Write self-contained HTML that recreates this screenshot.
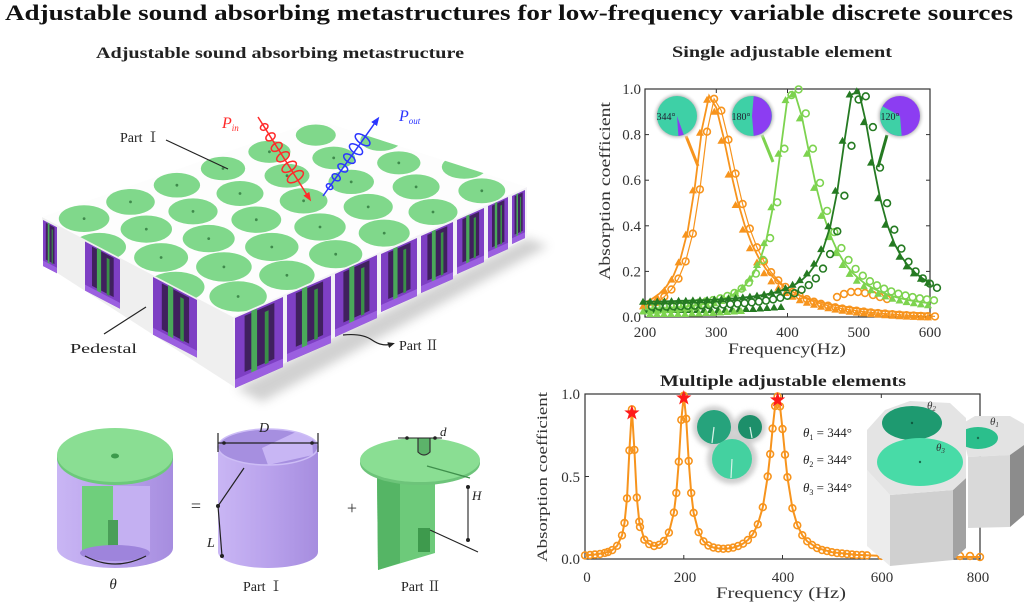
<!DOCTYPE html>
<html><head><meta charset="utf-8"><style>html,body{margin:0;padding:0;background:#fff}svg{display:block}</style></head>
<body>
<svg width="1024" height="615" viewBox="0 0 1024 615" xmlns="http://www.w3.org/2000/svg" font-family="'Liberation Serif','Noto Serif CJK SC',serif">
<defs>
<linearGradient id="lav" x1="0" x2="1" y1="0" y2="0"><stop offset="0" stop-color="#c9b6f4"/><stop offset="0.5" stop-color="#b9a2ec"/><stop offset="1" stop-color="#a68ddf"/></linearGradient>
<radialGradient id="halo"><stop offset="0.78" stop-color="#b8b8b8"/><stop offset="1" stop-color="#ffffff" stop-opacity="0"/></radialGradient>
<filter id="blur"><feGaussianBlur stdDeviation="5"/></filter>
<filter id="blur2"><feGaussianBlur stdDeviation="2.5"/></filter>
<clipPath id="topclip"><polygon points="42,217 318,120 527,187 233,317"/></clipPath>
<g id="cav">
<rect width="100" height="100" fill="#7e3fc4"/>
<rect x="20" y="3" width="62" height="80" fill="#40205e"/>
<rect x="34" y="0" width="12" height="97" fill="#4aa95a"/>
<rect x="62" y="10" width="8" height="75" fill="#3a8f48"/>
<rect y="88" width="100" height="12" fill="#9b5fe0"/>
</g>
<marker id="oc" markerWidth="12" markerHeight="12" refX="6" refY="6" markerUnits="userSpaceOnUse"><circle cx="6" cy="6" r="3.4" fill="none" stroke="#f7941d" stroke-width="1.6"/></marker>
<marker id="lc" markerWidth="12" markerHeight="12" refX="6" refY="6" markerUnits="userSpaceOnUse"><circle cx="6" cy="6" r="3.4" fill="none" stroke="#7dd34f" stroke-width="1.6"/></marker>
<marker id="dc" markerWidth="12" markerHeight="12" refX="6" refY="6" markerUnits="userSpaceOnUse"><circle cx="6" cy="6" r="3.4" fill="none" stroke="#257a22" stroke-width="1.6"/></marker>
<marker id="ot" markerWidth="12" markerHeight="12" refX="6" refY="6" markerUnits="userSpaceOnUse"><polygon points="6,2 10,9 2,9" fill="#f7941d"/></marker>
<marker id="lt" markerWidth="12" markerHeight="12" refX="6" refY="6" markerUnits="userSpaceOnUse"><polygon points="6,2 10,9 2,9" fill="#7dd34f"/></marker>
<marker id="dt" markerWidth="12" markerHeight="12" refX="6" refY="6" markerUnits="userSpaceOnUse"><polygon points="6,2 10,9 2,9" fill="#257a22"/></marker>
<marker id="ar" markerWidth="10" markerHeight="10" refX="5" refY="5" orient="auto" markerUnits="userSpaceOnUse"><polygon points="0,1.5 9,5 0,8.5" fill="#ff2a2a"/></marker>
<marker id="ab" markerWidth="10" markerHeight="10" refX="5" refY="5" orient="auto" markerUnits="userSpaceOnUse"><polygon points="0,1.5 9,5 0,8.5" fill="#2b35ff"/></marker>
<marker id="ak" markerWidth="8" markerHeight="8" refX="4" refY="4" orient="auto" markerUnits="userSpaceOnUse"><polygon points="0,1 7,4 0,7" fill="#222"/></marker>
<polygon id="star" points="0,-8 1.88,-2.59 7.61,-2.47 3.04,0.99 4.7,6.47 0,3.2 -4.7,6.47 -3.04,0.99 -7.61,-2.47 -1.88,-2.59" fill="#ff1a1a"/>
</defs>

<rect width="1024" height="615" fill="#fff"/>

<!-- Titles -->
<text x="5" y="20" font-size="22" font-weight="bold" fill="#111" textLength="1008" lengthAdjust="spacingAndGlyphs">Adjustable sound absorbing metastructures for low-frequency variable discrete sources</text>
<text x="96" y="58" font-size="16" font-weight="bold" fill="#222" textLength="368" lengthAdjust="spacingAndGlyphs">Adjustable sound absorbing metastructure</text>
<text x="672" y="57" font-size="16" font-weight="bold" fill="#222" textLength="220" lengthAdjust="spacingAndGlyphs">Single adjustable element</text>
<text x="660" y="386" font-size="16" font-weight="bold" fill="#222" textLength="246" lengthAdjust="spacingAndGlyphs">Multiple adjustable elements</text>

<!-- ===== Slab ===== -->
<polygon points="236,388 527,238 548,246 262,402" fill="#9a9a9a" opacity="0.45" filter="url(#blur)"/>
<polygon points="42,217 233,317 236,388 48,267" fill="#efefef"/>
<use href="#cav" transform="matrix(0.14,0.073,0,0.46,43,220)"/>
<use href="#cav" transform="matrix(0.35,0.183,0,0.49,85,241.5)"/>
<use href="#cav" transform="matrix(0.44,0.23,0,0.576,153,277)"/>
<polygon points="233,317 527,187 527,238 236,388" fill="#f3f1f6"/>
<use href="#cav" transform="matrix(0.48,-0.21,0,0.70,235,318)"/>
<use href="#cav" transform="matrix(0.44,-0.19,0,0.67,287,295)"/>
<use href="#cav" transform="matrix(0.42,-0.19,0,0.63,335,274)"/>
<use href="#cav" transform="matrix(0.36,-0.16,0,0.58,381,254)"/>
<use href="#cav" transform="matrix(0.32,-0.14,0,0.57,421,236)"/>
<use href="#cav" transform="matrix(0.27,-0.12,0,0.54,457,220)"/>
<use href="#cav" transform="matrix(0.20,-0.09,0,0.52,488,206)"/>
<use href="#cav" transform="matrix(0.13,-0.06,0,0.48,512,196)"/>
<polygon points="42,217 318,120 527,187 233,317" fill="#fdfdfd"/>
<g clip-path="url(#topclip)" fill="#80d88b">
<ellipse cx="238.1" cy="296.5" rx="28.7" ry="15.2"/><ellipse cx="286.9" cy="275.3" rx="27.7" ry="14.7"/><ellipse cx="335.7" cy="254.2" rx="26.6" ry="14.1"/><ellipse cx="384.2" cy="233.1" rx="25.5" ry="13.5"/><ellipse cx="433" cy="212" rx="24.5" ry="13"/><ellipse cx="481.8" cy="190.8" rx="23.4" ry="12.4"/>
<ellipse cx="175.7" cy="287" rx="28.8" ry="15.3"/><ellipse cx="223.9" cy="266.9" rx="27.8" ry="14.7"/><ellipse cx="271.8" cy="247" rx="26.7" ry="14.1"/><ellipse cx="320" cy="227" rx="25.7" ry="13.6"/><ellipse cx="368.2" cy="206.9" rx="24.6" ry="13"/><ellipse cx="416.1" cy="186.9" rx="23.5" ry="12.5"/><ellipse cx="464.3" cy="166.9" rx="22.5" ry="11.9"/>
<ellipse cx="161.1" cy="257.5" rx="27" ry="14.4"/><ellipse cx="208.7" cy="238.6" rx="26" ry="13.7"/><ellipse cx="256.3" cy="219.7" rx="24.9" ry="13.2"/><ellipse cx="303.6" cy="200.8" rx="23.9" ry="12.7"/><ellipse cx="351.2" cy="181.9" rx="22.8" ry="12.1"/><ellipse cx="398.8" cy="162.9" rx="21.7" ry="11.5"/>
<ellipse cx="99.3" cy="247" rx="26.7" ry="14.1"/><ellipse cx="146.3" cy="229.1" rx="25.7" ry="13.6"/><ellipse cx="193" cy="211.4" rx="24.6" ry="13"/><ellipse cx="240" cy="193.5" rx="23.5" ry="12.5"/><ellipse cx="287" cy="175.7" rx="22.5" ry="11.9"/><ellipse cx="333.7" cy="157.9" rx="21.4" ry="11.3"/><ellipse cx="380.7" cy="140.1" rx="20.4" ry="10.8"/>
<ellipse cx="84.1" cy="218.6" rx="25.3" ry="13.4"/><ellipse cx="130.5" cy="201.9" rx="24.3" ry="12.9"/><ellipse cx="176.9" cy="185.2" rx="23.2" ry="12.3"/><ellipse cx="223" cy="168.5" rx="22.2" ry="11.8"/><ellipse cx="269.4" cy="151.8" rx="21.1" ry="11.1"/><ellipse cx="315.8" cy="135.1" rx="20" ry="10.6"/>
</g>
<g fill="#3f8a4c">
<circle cx="238.1" cy="296.5" r="1.4"/><circle cx="286.9" cy="275.3" r="1.4"/><circle cx="335.7" cy="254.2" r="1.4"/><circle cx="384.2" cy="233.1" r="1.4"/><circle cx="433" cy="212" r="1.4"/><circle cx="481.8" cy="190.8" r="1.4"/>
<circle cx="223.9" cy="266.9" r="1.4"/><circle cx="271.8" cy="247" r="1.4"/><circle cx="320" cy="227" r="1.4"/><circle cx="368.2" cy="206.9" r="1.4"/><circle cx="416.1" cy="186.9" r="1.4"/>
<circle cx="161.1" cy="257.5" r="1.4"/><circle cx="208.7" cy="238.6" r="1.4"/><circle cx="256.3" cy="219.7" r="1.4"/><circle cx="303.6" cy="200.8" r="1.4"/><circle cx="351.2" cy="181.9" r="1.4"/><circle cx="398.8" cy="162.9" r="1.4"/>
<circle cx="146.3" cy="229.1" r="1.4"/><circle cx="193" cy="211.4" r="1.4"/><circle cx="240" cy="193.5" r="1.4"/><circle cx="287" cy="175.7" r="1.4"/><circle cx="333.7" cy="157.9" r="1.4"/>
<circle cx="84.1" cy="218.6" r="1.4"/><circle cx="130.5" cy="201.9" r="1.4"/><circle cx="176.9" cy="185.2" r="1.4"/><circle cx="223" cy="168.5" r="1.4"/><circle cx="269.4" cy="151.8" r="1.4"/>
</g>

<!-- waves -->
<line x1="258" y1="117" x2="309" y2="198" stroke="#ff2a2a" stroke-width="1.5" marker-end="url(#ar)"/>
<g fill="none" stroke="#ff2a2a" stroke-width="1.5">
<ellipse cx="264.2" cy="127" rx="3" ry="4" transform="rotate(57.9 264.2 127)"/>
<ellipse cx="270.5" cy="136.9" rx="3.5" ry="5" transform="rotate(57.9 270.5 136.9)"/>
<ellipse cx="276.7" cy="146.9" rx="3.8" ry="6" transform="rotate(57.9 276.7 146.9)"/>
<ellipse cx="283" cy="156.8" rx="4" ry="7" transform="rotate(57.9 283 156.8)"/>
<ellipse cx="289.2" cy="166.8" rx="4.3" ry="8" transform="rotate(57.9 289.2 166.8)"/>
<ellipse cx="295.4" cy="176.7" rx="4.5" ry="9" transform="rotate(57.9 295.4 176.7)"/>
</g>
<line x1="323" y1="196" x2="377" y2="120" stroke="#2b35ff" stroke-width="1.5" marker-end="url(#ab)"/>
<g fill="none" stroke="#2b35ff" stroke-width="1.5">
<ellipse cx="329.6" cy="186.6" rx="2.5" ry="3.5" transform="rotate(-54.8 329.6 186.6)"/>
<ellipse cx="336.2" cy="177.3" rx="3" ry="4.5" transform="rotate(-54.8 336.2 177.3)"/>
<ellipse cx="342.8" cy="167.9" rx="3.3" ry="5.5" transform="rotate(-54.8 342.8 167.9)"/>
<ellipse cx="349.4" cy="158.6" rx="3.6" ry="6.5" transform="rotate(-54.8 349.4 158.6)"/>
<ellipse cx="356" cy="149.2" rx="4" ry="7.5" transform="rotate(-54.8 356 149.2)"/>
<ellipse cx="362.6" cy="139.8" rx="4.2" ry="8.5" transform="rotate(-54.8 362.6 139.8)"/>
</g>
<text x="222" y="128" font-size="16" font-style="italic" fill="#ff2a2a">P<tspan font-size="9" dy="3">in</tspan></text>
<text x="399" y="121" font-size="16" font-style="italic" fill="#2b35ff">P<tspan font-size="9" dy="3">out</tspan></text>

<!-- slab labels -->
<text x="120" y="142" font-size="14" fill="#222">Part Ⅰ</text>
<line x1="166" y1="140" x2="228" y2="169" stroke="#222" stroke-width="1.2"/>
<text x="70" y="353" font-size="14" fill="#222" textLength="67" lengthAdjust="spacingAndGlyphs">Pedestal</text>
<line x1="104" y1="334" x2="146" y2="307" stroke="#222" stroke-width="1.2"/>
<path d="M343,335 Q362,333 372,340 T392,344" fill="none" stroke="#222" stroke-width="1.2" marker-end="url(#ak)"/>
<text x="399" y="350" font-size="14" fill="#222">Part Ⅱ</text>

<!-- ===== Bottom-left components ===== -->
<path d="M57,455 L57,548 A58,20 0 0 0 173,548 L173,455 Z" fill="url(#lav)"/>
<rect x="80" y="486" width="70" height="68" fill="#c4b0f2"/>
<polygon points="82,486 113,486 113,548 82,556" fill="#6fcf7c"/>
<rect x="108" y="520" width="10" height="26" fill="#4a9f58"/>
<ellipse cx="115" cy="553" rx="35" ry="8" fill="#9e84dc"/>
<ellipse cx="115" cy="458" rx="58" ry="27" fill="#6cc97a"/>
<ellipse cx="115" cy="455" rx="58" ry="27" fill="#8ade93"/>
<ellipse cx="115" cy="456" rx="4" ry="2.5" fill="#3c9a4c"/>
<path d="M85,556 Q115,572 146,556" fill="none" stroke="#222" stroke-width="1.2"/>
<text x="113" y="589" font-size="15" font-style="italic" text-anchor="middle" fill="#222">θ</text>
<text x="196" y="512" font-size="18" text-anchor="middle" fill="#333">=</text>
<path d="M218,447 L218,552 A50,16 0 0 0 318,552 L318,447 Z" fill="url(#lav)"/>
<ellipse cx="268" cy="447" rx="50" ry="18" fill="#a68fe0"/>
<polygon points="262,448 296,432 312,438 313,455 268,465" fill="#c8b6f4"/>
<ellipse cx="268" cy="447" rx="50" ry="18" fill="none" stroke="#cdbdf6" stroke-width="1.5"/>
<g stroke="#222" stroke-width="1.2"><line x1="218" y1="443" x2="318" y2="443"/><line x1="218" y1="433" x2="218" y2="452"/><line x1="318" y1="433" x2="318" y2="452"/></g>
<circle cx="224" cy="443" r="1.8" fill="#222"/><circle cx="312" cy="443" r="1.8" fill="#222"/>
<text x="264" y="432" font-size="14" font-style="italic" text-anchor="middle" fill="#222">D</text>
<polyline points="244,468 218,506 222,556" fill="none" stroke="#222" stroke-width="1.2"/>
<circle cx="218" cy="506" r="2" fill="#222"/><circle cx="222" cy="556" r="2" fill="#222"/>
<text x="207" y="547" font-size="14" font-style="italic" fill="#222">L</text>
<text x="263" y="591" font-size="14" text-anchor="middle" fill="#222">Part Ⅰ</text>
<text x="352" y="514" font-size="18" text-anchor="middle" fill="#333">+</text>
<polygon points="377,476 435,476 435,553 378,570" fill="#6dca7a"/>
<polygon points="377,476 400,476 400,563 378,570" fill="#55b565"/>
<rect x="418" y="528" width="12" height="24" fill="#3e9a4d"/>
<ellipse cx="420" cy="463" rx="60" ry="22" fill="#6dc47a"/>
<ellipse cx="420" cy="460" rx="60" ry="22" fill="#8ade93"/>
<path d="M418,438 L418,452 Q424,458 430,452 L430,438" fill="#5cb36a" stroke="#333" stroke-width="1.2"/>
<line x1="427" y1="466" x2="470" y2="478" stroke="#3f8f4c" stroke-width="1.3"/>
<line x1="398" y1="438" x2="442" y2="438" stroke="#222" stroke-width="1"/>
<circle cx="407" cy="438" r="1.8" fill="#222"/><circle cx="435" cy="438" r="1.8" fill="#222"/>
<text x="440" y="436" font-size="13" font-style="italic" fill="#222">d</text>
<line x1="468" y1="487" x2="468" y2="540" stroke="#222" stroke-width="1.1"/>
<circle cx="468" cy="487" r="2" fill="#222"/><circle cx="468" cy="540" r="2" fill="#222"/>
<line x1="430" y1="530" x2="478" y2="552" stroke="#222" stroke-width="1.1"/>
<text x="472" y="500" font-size="13" font-style="italic" fill="#222">H</text>
<text x="421" y="591" font-size="14" text-anchor="middle" fill="#222">Part Ⅱ</text>

<!-- ===== Top-right chart ===== -->
<rect x="645" y="89" width="285" height="228" fill="none" stroke="#333" stroke-width="1.2"/>
<g stroke="#333" stroke-width="1">
<line x1="645" y1="134.6" x2="649" y2="134.6"/><line x1="645" y1="180.2" x2="649" y2="180.2"/><line x1="645" y1="225.8" x2="649" y2="225.8"/><line x1="645" y1="271.4" x2="649" y2="271.4"/>
<line x1="930" y1="134.6" x2="926" y2="134.6"/><line x1="930" y1="180.2" x2="926" y2="180.2"/><line x1="930" y1="225.8" x2="926" y2="225.8"/><line x1="930" y1="271.4" x2="926" y2="271.4"/>
<line x1="716.3" y1="317" x2="716.3" y2="313"/><line x1="787.5" y1="317" x2="787.5" y2="313"/><line x1="858.8" y1="317" x2="858.8" y2="313"/>
<line x1="716.3" y1="89" x2="716.3" y2="93"/><line x1="787.5" y1="89" x2="787.5" y2="93"/><line x1="858.8" y1="89" x2="858.8" y2="93"/>
</g>
<g font-size="15" fill="#333" text-anchor="end">
<text x="641" y="94">1.0</text><text x="641" y="139.6">0.8</text><text x="641" y="185.2">0.6</text><text x="641" y="230.8">0.4</text><text x="641" y="276.4">0.2</text><text x="641" y="322">0.0</text>
</g>
<g font-size="15" fill="#333" text-anchor="middle">
<text x="645" y="337">200</text><text x="716.3" y="337">300</text><text x="787.5" y="337">400</text><text x="858.8" y="337">500</text><text x="930" y="337">600</text>
</g>
<text x="787" y="354" font-size="16" fill="#333" text-anchor="middle" textLength="118" lengthAdjust="spacingAndGlyphs">Frequency(Hz)</text>
<text transform="translate(610,191) rotate(-90)" font-size="16" fill="#333" text-anchor="middle" textLength="178" lengthAdjust="spacingAndGlyphs">Absorption coefficient</text>

<polyline points="648,310 655,310 662,310 669,310 676,310 683,310 690,310 697,310 704,310 711,310 718,310 725,310 732,309.5 739,309.5 746,309 753,309 760,308.5 767,308 774,307.5 781,307" fill="none" stroke="none" marker-start="url(#dt)" marker-mid="url(#dt)" marker-end="url(#dt)"/>
<polyline points="650,314 657,314 664,314 671,314 678,314 685,314 692,313.5 699,313.5 706,313 713,313 720,312.5 727,312 734,311.5 741,311" fill="none" stroke="none" marker-start="url(#lt)" marker-mid="url(#lt)" marker-end="url(#lt)"/>

<polyline points="645,302.4 652.1,298.8 659.3,293.7 666.4,286.5 673.5,275.6 680.6,258.4 687.8,230.6 694.9,186.4 702,128.7 709.1,95.8 716.3,107.7 723.4,136.7 730.5,170.6 737.6,201 744.8,225.6 751.9,244.3 759,258.4 766.1,269.2 773.3,277.4 780.4,283.9 787.5,289 794.6,292.8 801.8,296.2 808.9,298.7 816,300.8 823.1,302.7 830.3,304.3 837.4,305.6 844.5,306.7 851.6,307.7 858.8,308.6 865.9,309.4 873,310.1 880.1,310.6 887.3,311.2 894.4,311.7 901.5,312.2 908.6,312.6 915.8,312.9 922.9,313.2 930,313.4" fill="none" stroke="#f7941d" stroke-width="1.8"/>
<polyline points="645,302.4 652.1,298.8 659.3,293.7 666.4,286.5 673.5,275.6 680.6,258.4 687.8,230.6 694.9,186.4 702,128.7 709.1,95.8 716.3,107.7 723.4,136.7 730.5,170.6 737.6,201 744.8,225.6 751.9,244.3 759,258.4 766.1,269.2 773.3,277.4 780.4,283.9 787.5,289 794.6,292.8 801.8,296.2 808.9,298.7 816,300.8 823.1,302.7 830.3,304.3 837.4,305.6 844.5,306.7 851.6,307.7 858.8,308.6 865.9,309.4 873,310.1 880.1,310.6 887.3,311.2 894.4,311.7 901.5,312.2 908.6,312.6 915.8,312.9 922.9,313.2 930,313.4" transform="translate(5,3)" fill="none" stroke="#f7941d" stroke-width="1.2" marker-start="url(#oc)" marker-mid="url(#oc)" marker-end="url(#oc)"/>
<polyline points="645,302.4 652.1,298.8 659.3,293.7 666.4,286.5 673.5,275.6 680.6,258.4 687.8,230.6 694.9,186.4 702,128.7 709.1,95.8 716.3,107.7 723.4,136.7 730.5,170.6 737.6,201 744.8,225.6 751.9,244.3 759,258.4 766.1,269.2 773.3,277.4 780.4,283.9 787.5,289 794.6,292.8 801.8,296.2 808.9,298.7 816,300.8 823.1,302.7 830.3,304.3 837.4,305.6 844.5,306.7 851.6,307.7 858.8,308.6 865.9,309.4 873,310.1 880.1,310.6 887.3,311.2 894.4,311.7 901.5,312.2 908.6,312.6 915.8,312.9 922.9,313.2 930,313.4" transform="translate(-2,4)" fill="none" stroke="none" marker-start="url(#ot)" marker-mid="url(#ot)" marker-end="url(#ot)"/>
<polyline points="837,297 844,294 851,292 858,292 865,293 873,295 880,297 887,299" fill="none" stroke="none" marker-start="url(#oc)" marker-mid="url(#oc)" marker-end="url(#oc)"/>

<polyline points="645,309.5 652.1,309.1 659.3,308.7 666.4,308.3 673.5,307.8 680.6,307.2 687.8,306.5 694.9,305.6 702,304.5 709.1,303.1 716.3,301.3 723.4,299 730.5,296 737.6,291.7 744.8,285.6 751.9,276.6 759,263 766.1,241.1 773.3,205.3 780.4,151.7 787.5,98.1 794.6,92.4 801.8,116.4 808.9,151.7 816,185.9 823.1,213.9 830.3,235.1 837.4,251.1 844.5,263 851.6,271.9 858.8,278.7 865.9,284.2 873,288.3 880.1,291.7 887.3,294.4 894.4,296.7 901.5,298.5 908.6,300.1 915.8,301.3 922.9,302.4 930,303.3" fill="none" stroke="#7dd34f" stroke-width="1.8"/>
<polyline points="645,309.5 652.1,309.1 659.3,308.7 666.4,308.3 673.5,307.8 680.6,307.2 687.8,306.5 694.9,305.6 702,304.5 709.1,303.1 716.3,301.3 723.4,299 730.5,296 737.6,291.7 744.8,285.6 751.9,276.6 759,263 766.1,241.1 773.3,205.3 780.4,151.7 787.5,98.1 794.6,92.4 801.8,116.4 808.9,151.7 816,185.9 823.1,213.9 830.3,235.1 837.4,251.1 844.5,263 851.6,271.9 858.8,278.7 865.9,284.2 873,288.3 880.1,291.7 887.3,294.4 894.4,296.7 901.5,298.5 908.6,300.1 915.8,301.3 922.9,302.4 930,303.3" transform="translate(4,-3)" fill="none" stroke="none" marker-start="url(#lc)" marker-mid="url(#lc)" marker-end="url(#lc)"/>
<polyline points="645,309.5 652.1,309.1 659.3,308.7 666.4,308.3 673.5,307.8 680.6,307.2 687.8,306.5 694.9,305.6 702,304.5 709.1,303.1 716.3,301.3 723.4,299 730.5,296 737.6,291.7 744.8,285.6 751.9,276.6 759,263 766.1,241.1 773.3,205.3 780.4,151.7 787.5,98.1 794.6,92.4 801.8,116.4 808.9,151.7 816,185.9 823.1,213.9 830.3,235.1 837.4,251.1 844.5,263 851.6,271.9 858.8,278.7 865.9,284.2 873,288.3 880.1,291.7 887.3,294.4 894.4,296.7 901.5,298.5 908.6,300.1 915.8,301.3 922.9,302.4 930,303.3" transform="translate(-2,2)" fill="none" stroke="none" marker-start="url(#lt)" marker-mid="url(#lt)" marker-end="url(#lt)"/>

<polyline points="645,301.7 652.1,301.5 659.3,301.5 666.4,301.3 673.5,301.1 680.6,300.8 687.8,300.7 694.9,300.4 702,300.2 709.1,299.9 716.3,299.5 723.4,299.1 730.5,298.6 737.6,298.1 744.8,297.4 751.9,296.6 759,295.6 766.1,294.4 773.3,292.8 780.4,290.8 787.5,288.2 794.6,284.8 801.8,280.1 808.9,273.4 816,263.6 823.1,249.1 830.3,226.3 837.4,190.7 844.5,140.8 851.6,94.5 858.8,91.3 865.9,122.1 873,162.6 880.1,198.2 887.3,224.7 894.4,243.6 901.5,256.8 908.6,266.4 915.8,273.4 922.9,278.7 930,282.8" fill="none" stroke="#257a22" stroke-width="1.8"/>
<polyline points="645,301.7 652.1,301.5 659.3,301.5 666.4,301.3 673.5,301.1 680.6,300.8 687.8,300.7 694.9,300.4 702,300.2 709.1,299.9 716.3,299.5 723.4,299.1 730.5,298.6 737.6,298.1 744.8,297.4 751.9,296.6 759,295.6 766.1,294.4 773.3,292.8 780.4,290.8 787.5,288.2 794.6,284.8 801.8,280.1 808.9,273.4 816,263.6 823.1,249.1 830.3,226.3 837.4,190.7 844.5,140.8 851.6,94.5 858.8,91.3 865.9,122.1 873,162.6 880.1,198.2 887.3,224.7 894.4,243.6 901.5,256.8 908.6,266.4 915.8,273.4 922.9,278.7 930,282.8" transform="translate(7,5)" fill="none" stroke="none" marker-start="url(#dc)" marker-mid="url(#dc)" marker-end="url(#dc)"/>
<polyline points="645,301.7 652.1,301.5 659.3,301.5 666.4,301.3 673.5,301.1 680.6,300.8 687.8,300.7 694.9,300.4 702,300.2 709.1,299.9 716.3,299.5 723.4,299.1 730.5,298.6 737.6,298.1 744.8,297.4 751.9,296.6 759,295.6 766.1,294.4 773.3,292.8 780.4,290.8 787.5,288.2 794.6,284.8 801.8,280.1 808.9,273.4 816,263.6 823.1,249.1 830.3,226.3 837.4,190.7 844.5,140.8 851.6,94.5 858.8,91.3 865.9,122.1 873,162.6 880.1,198.2 887.3,224.7 894.4,243.6 901.5,256.8 908.6,266.4 915.8,273.4 922.9,278.7 930,282.8" transform="translate(-2,0)" fill="none" stroke="none" marker-start="url(#dt)" marker-mid="url(#dt)" marker-end="url(#dt)"/>

<!-- pies -->
<line x1="686" y1="136" x2="698" y2="166" stroke="#f7941d" stroke-width="3"/>
<line x1="762" y1="135" x2="773" y2="162" stroke="#7dd34f" stroke-width="3"/>
<line x1="887" y1="135" x2="878" y2="167" stroke="#257a22" stroke-width="3"/>
<circle cx="677" cy="116" r="25" fill="url(#halo)"/>
<circle cx="752" cy="116" r="25" fill="url(#halo)"/>
<circle cx="900" cy="116" r="25" fill="url(#halo)"/>
<circle cx="677" cy="116" r="20" fill="#3ed0a6"/>
<path d="M677,116 L683.8,134.8 A20,20 0 0 1 678.4,136 Z" fill="#8c3df2"/>
<circle cx="752" cy="116" r="20" fill="#3ed0a6"/>
<path d="M752,116 L753.7,96.1 A20,20 0 0 1 753.7,135.9 Z" fill="#8c3df2"/>
<circle cx="900" cy="116" r="20" fill="#8c3df2"/>
<path d="M900,116 L901.7,135.9 A20,20 0 0 1 882.5,106.3 Z" fill="#3ed0a6"/>
<g font-size="10" fill="#223" text-anchor="middle">
<text x="666" y="120">344°</text><text x="741" y="120">180°</text><text x="890" y="120">120°</text>
</g>

<!-- ===== Bottom chart ===== -->
<rect x="585" y="394" width="395" height="165" fill="none" stroke="#333" stroke-width="1.2"/>
<g stroke="#333" stroke-width="1">
<line x1="585" y1="476.5" x2="589" y2="476.5"/><line x1="683.8" y1="559" x2="683.8" y2="555"/><line x1="782.5" y1="559" x2="782.5" y2="555"/><line x1="881.3" y1="559" x2="881.3" y2="555"/>
<line x1="683.8" y1="394" x2="683.8" y2="398"/><line x1="782.5" y1="394" x2="782.5" y2="398"/><line x1="881.3" y1="394" x2="881.3" y2="398"/>
</g>
<g font-size="15" fill="#333" text-anchor="end">
<text x="580" y="399">1.0</text><text x="580" y="482">0.5</text><text x="580" y="564">0.0</text>
</g>
<g font-size="15" fill="#333" text-anchor="middle">
<text x="587" y="582">0</text><text x="685" y="582">200</text><text x="783" y="582">400</text><text x="882" y="582">600</text><text x="978" y="582">800</text>
</g>
<text x="781" y="598" font-size="16" fill="#333" text-anchor="middle" textLength="130" lengthAdjust="spacingAndGlyphs">Frequency (Hz)</text>
<text transform="translate(547,477) rotate(-90)" font-size="15" fill="#333" text-anchor="middle" textLength="170" lengthAdjust="spacingAndGlyphs">Absorption coefficient</text>

<polyline points="585,555.4 594.9,554.5 604.8,552.9 612.2,550.1 617.1,545.8 622,535.4 624.5,523 627,498.4 629.4,450.4 631.9,409.3 634.4,449.9 636.8,497.6 639.3,521.7 644.3,539.7 649.2,544.1 654.1,546 659.1,544.8 664,541 668.9,532.6 673.9,512.6 676.3,493 678.8,461.7 681.3,419.9 683.8,395.7 686.2,418.8 688.7,461 691.2,493 693.6,512.8 698.6,532.1 703.5,541.3 708.4,545.5 713.4,547.5 718.3,548.4 723.3,548.8 728.2,548.4 733.1,547.6 738.1,546 743,543.7 747.9,540 752.9,534.1 757.8,524.3 762.8,507.2 767.7,476.5 770.2,454.1 772.6,428.6 775.1,406 777.6,396.5 780,406.4 782.5,429 785,454.7 787.4,477.2 792.4,508.2 797.3,525.3 802.3,535.2 807.2,541.3 817.1,548 831.9,552.2 856.6,554.9 881.3,555.9 930.6,556.7 980,557" fill="none" stroke="#f7941d" stroke-width="2" marker-start="url(#oc)" marker-mid="url(#oc)" marker-end="url(#oc)"/>
<polyline points="590,555 600,554 608,552 640,527 812,545 822,550 827,551 837,553 842,553.5 847,554 852,554.5 862,555 867,555.3 960,556 970,556" fill="none" stroke="none" marker-start="url(#oc)" marker-mid="url(#oc)" marker-end="url(#oc)"/>
<use href="#star" x="631.9" y="413"/>
<use href="#star" x="683.8" y="398"/>
<use href="#star" x="777.6" y="400"/>

<g filter="url(#blur2)" fill="#cfcfcf"><circle cx="714" cy="427" r="21"/><circle cx="750" cy="427" r="16"/><circle cx="732" cy="459" r="25"/></g>
<circle cx="714" cy="427" r="17" fill="#26a37c"/>
<circle cx="750" cy="427" r="12" fill="#1d8f6a"/>
<circle cx="732" cy="459" r="20" fill="#44d1a0"/>
<g stroke="#d8f2e8" stroke-width="1.2"><line x1="714" y1="427" x2="712" y2="443"/><line x1="750" y1="427" x2="752" y2="438"/><line x1="732" y1="459" x2="731" y2="478"/></g>
<g font-size="13" fill="#222">
<text x="803" y="437"><tspan font-style="italic">θ</tspan><tspan font-size="8" dy="3">1</tspan><tspan dy="-3"> = 344°</tspan></text>
<text x="803" y="464"><tspan font-style="italic">θ</tspan><tspan font-size="8" dy="3">2</tspan><tspan dy="-3"> = 344°</tspan></text>
<text x="803" y="492"><tspan font-style="italic">θ</tspan><tspan font-size="8" dy="3">3</tspan><tspan dy="-3"> = 344°</tspan></text>
</g>

<!-- prisms -->
<polygon points="960,425 975,416 1010,416 1024,424 1024,445 1010,455 968,457" fill="#e3e3e3"/>
<polygon points="968,457 1010,455 1010,527 968,528" fill="#d9d9d9"/>
<polygon points="1010,455 1024,445 1024,515 1010,527" fill="#8c8c8c"/>
<ellipse cx="978" cy="438" rx="20" ry="11" fill="#2bbf8c"/>
<circle cx="978" cy="438" r="1.2" fill="#1a6f50"/>
<polygon points="867,470 890,495 890,566 867,546" fill="#ececec"/>
<polygon points="890,495 953,490 953,560 890,566" fill="#d0d0d0"/>
<polygon points="953,490 966,478 966,548 953,560" fill="#a2a2a2"/>
<polygon points="867,470 867,430 885,410 910,401 950,403 966,418 966,478 953,490 890,495" fill="#e4e4e4"/>
<ellipse cx="912" cy="423" rx="30" ry="17" fill="#1e9a70"/>
<ellipse cx="920" cy="462" rx="43" ry="24" fill="#48dba7"/>
<circle cx="912" cy="423" r="1.2" fill="#0e5a40"/><circle cx="920" cy="462" r="1.2" fill="#1a6f50"/>
<g font-size="11" font-style="italic" fill="#333">
<text x="927" y="409">θ<tspan font-size="7" dy="2">2</tspan></text>
<text x="990" y="425">θ<tspan font-size="7" dy="2">1</tspan></text>
<text x="936" y="451">θ<tspan font-size="7" dy="2">3</tspan></text>
</g>
</svg>
</body></html>
